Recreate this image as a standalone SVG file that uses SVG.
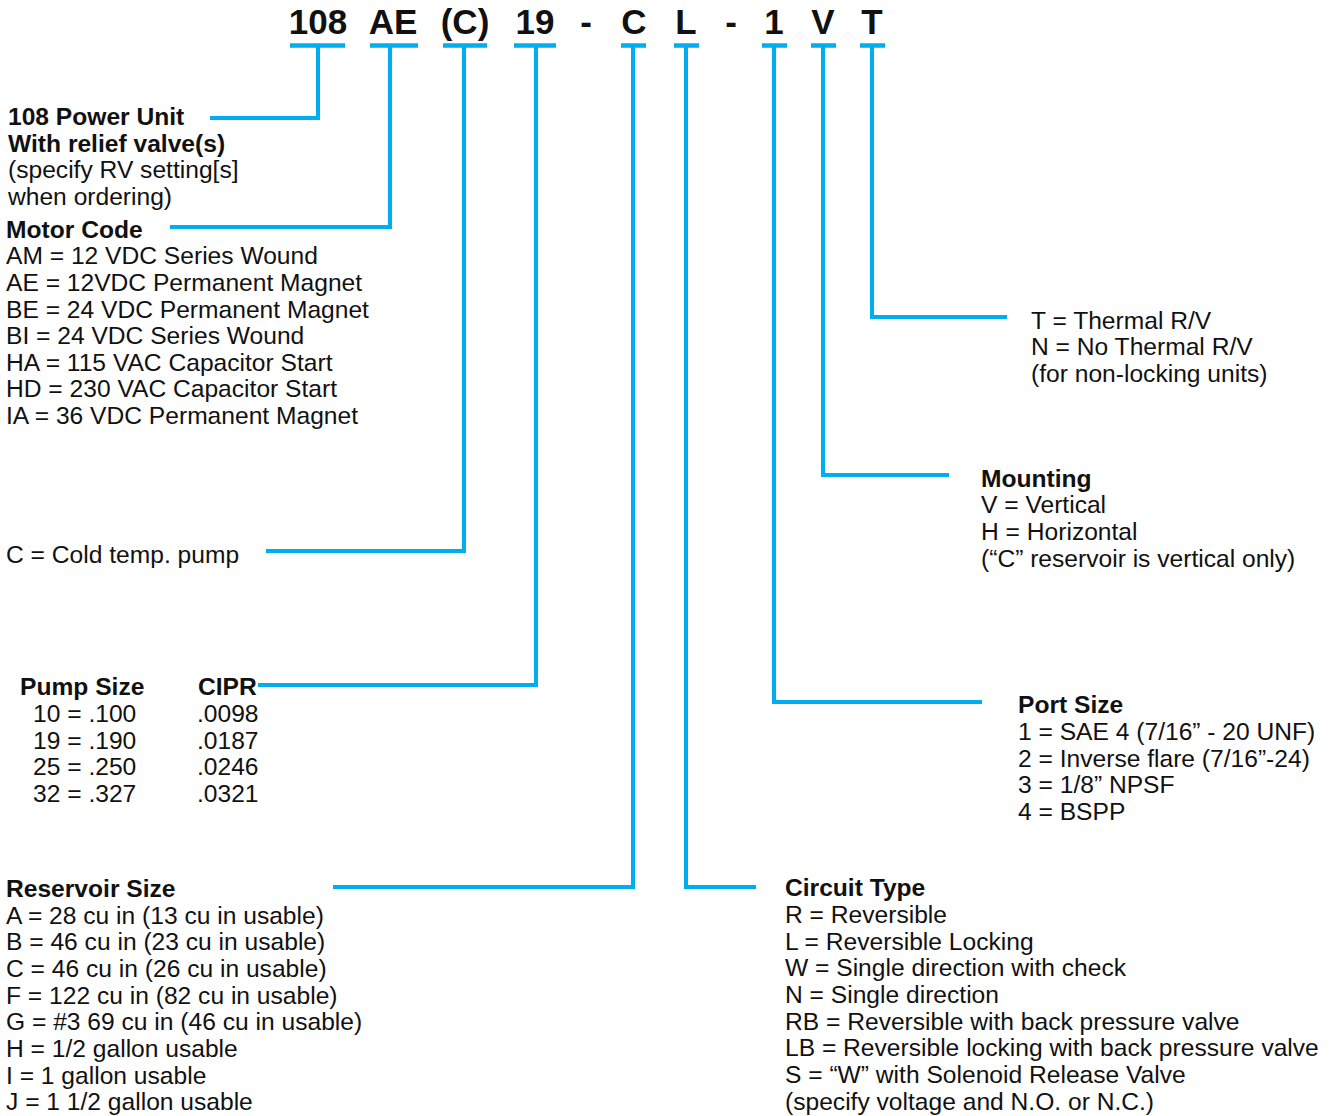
<svg xmlns="http://www.w3.org/2000/svg" width="1330" height="1116" viewBox="0 0 1330 1116">
<style>
text{font-family:"Liberation Sans",Arial,sans-serif;fill:#111;}
.t{font-size:24.6px;}
.b{font-weight:bold;}
.h{font-size:35px;font-weight:bold;text-anchor:middle;}
.c{fill:none;stroke:#00aeef;stroke-width:4;}
.bar{fill:none;stroke:#00aeef;stroke-width:4.5;}
</style>
<rect width="1330" height="1116" fill="#fff"/>
<g id="header">
<text class="h" x="318" y="34">108</text>
<text class="h" x="393" y="34">AE</text>
<text class="h" x="465" y="34">(C)</text>
<text class="h" x="535" y="34">19</text>
<text class="h" x="586" y="34">-</text>
<text class="h" x="634" y="34">C</text>
<text class="h" x="686" y="34">L</text>
<text class="h" x="731" y="34">-</text>
<text class="h" x="774" y="34">1</text>
<text class="h" x="823" y="34">V</text>
<text class="h" x="872" y="34">T</text>
</g>
<g id="connectors">
<path class="bar" d="M290 45.5H345M370 45.5H418M443 45.5H487M514 45.5H556M621 45.5H646M674 45.5H699M762 45.5H787M811 45.5H836M860 45.5H885"/>
<path class="c" d="M318 45V118H210"/>
<path class="c" d="M390 45V227H170"/>
<path class="c" d="M464 45V551H266"/>
<path class="c" d="M536 45V685H258"/>
<path class="c" d="M633 45V887H333"/>
<path class="c" d="M686 45V887H756"/>
<path class="c" d="M774 45V702H982"/>
<path class="c" d="M823 45V475H949"/>
<path class="c" d="M872 45V317H1007"/>
</g>
<g id="power-unit">
<text class="t b" x="8" y="125">108 Power Unit</text>
<text class="t b" x="8" y="152">With relief valve(s)</text>
<text class="t" x="8" y="178">(specify RV setting[s]</text>
<text class="t" x="8" y="205">when ordering)</text>
</g>
<g id="motor-code">
<text class="t b" x="6" y="238">Motor Code</text>
<text class="t" x="6" y="264">AM = 12 VDC Series Wound</text>
<text class="t" x="6" y="291">AE = 12VDC Permanent Magnet</text>
<text class="t" x="6" y="318">BE = 24 VDC Permanent Magnet</text>
<text class="t" x="6" y="344">BI = 24 VDC Series Wound</text>
<text class="t" x="6" y="371">HA = 115 VAC Capacitor Start</text>
<text class="t" x="6" y="397">HD = 230 VAC Capacitor Start</text>
<text class="t" x="6" y="424">IA = 36 VDC Permanent Magnet</text>
</g>
<g id="cold-pump">
<text class="t" x="6" y="563">C = Cold temp. pump</text>
</g>
<g id="pump-size">
<text class="t b" x="20" y="695">Pump Size</text>
<text class="t b" x="198" y="695">CIPR</text>
<text class="t" x="33" y="722">10 = .100</text>
<text class="t" x="33" y="749">19 = .190</text>
<text class="t" x="33" y="775">25 = .250</text>
<text class="t" x="33" y="802">32 = .327</text>
<text class="t" x="197" y="722">.0098</text>
<text class="t" x="197" y="749">.0187</text>
<text class="t" x="197" y="775">.0246</text>
<text class="t" x="197" y="802">.0321</text>
</g>
<g id="reservoir-size">
<text class="t b" x="6" y="897">Reservoir Size</text>
<text class="t" x="6" y="924">A = 28 cu in (13 cu in usable)</text>
<text class="t" x="6" y="950">B = 46 cu in (23 cu in usable)</text>
<text class="t" x="6" y="977">C = 46 cu in (26 cu in usable)</text>
<text class="t" x="6" y="1004">F = 122 cu in (82 cu in usable)</text>
<text class="t" x="6" y="1030">G = #3 69 cu in (46 cu in usable)</text>
<text class="t" x="6" y="1057">H = 1/2 gallon usable</text>
<text class="t" x="6" y="1084">I = 1 gallon usable</text>
<text class="t" x="6" y="1110">J = 1 1/2 gallon usable</text>
</g>
<g id="circuit-type">
<text class="t b" x="785" y="896">Circuit Type</text>
<text class="t" x="785" y="923">R = Reversible</text>
<text class="t" x="785" y="950">L = Reversible Locking</text>
<text class="t" x="785" y="976">W = Single direction with check</text>
<text class="t" x="785" y="1003">N = Single direction</text>
<text class="t" x="785" y="1030">RB = Reversible with back pressure valve</text>
<text class="t" x="785" y="1056">LB = Reversible locking with back pressure valve</text>
<text class="t" x="785" y="1083">S = “W” with Solenoid Release Valve</text>
<text class="t" x="785" y="1110">(specify voltage and N.O. or N.C.)</text>
</g>
<g id="thermal">
<text class="t" x="1031" y="329">T = Thermal R/V</text>
<text class="t" x="1031" y="355">N = No Thermal R/V</text>
<text class="t" x="1031" y="382">(for non-locking units)</text>
</g>
<g id="mounting">
<text class="t b" x="981" y="487">Mounting</text>
<text class="t" x="981" y="513">V = Vertical</text>
<text class="t" x="981" y="540">H = Horizontal</text>
<text class="t" x="981" y="567">(“C” reservoir is vertical only)</text>
</g>
<g id="port-size">
<text class="t b" x="1018" y="713">Port Size</text>
<text class="t" x="1018" y="740">1 = SAE 4 (7/16” - 20 UNF)</text>
<text class="t" x="1018" y="767">2 = Inverse flare (7/16”-24)</text>
<text class="t" x="1018" y="793">3 = 1/8” NPSF</text>
<text class="t" x="1018" y="820">4 = BSPP</text>
</g>
</svg>
